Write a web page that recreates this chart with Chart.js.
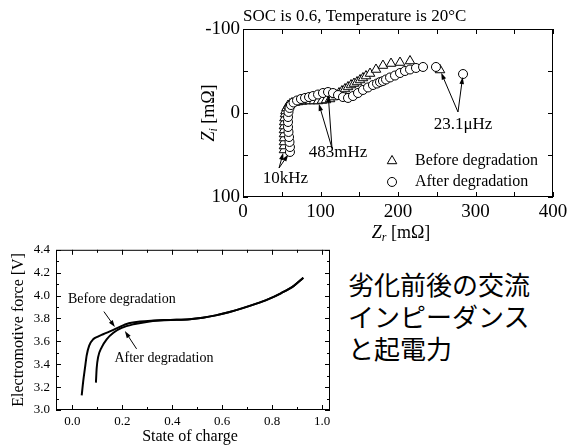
<!DOCTYPE html>
<html><head><meta charset="utf-8">
<script src="https://cdn.jsdelivr.net/npm/chart.js@4"></script>
<style>
html,body{margin:0;padding:0;background:#fff}
body{width:579px;height:446px;position:relative;overflow:hidden}
#c1{position:absolute;left:195px;top:0}
#c2{position:absolute;left:0;top:236px}
#jp{position:absolute;left:348px;top:268px;font-family:"Noto Sans CJK JP",sans-serif;font-size:26px;line-height:32px;color:#000;white-space:nowrap}
</style></head><body>
<canvas id="c1" width="384" height="246"></canvas>
<canvas id="c2" width="345" height="210"></canvas>
<div id="jp">劣化前後の交流<br>インピーダンス<br>と起電力</div>
<script>
// ---------- Nyquist plot data (Zr, Zi in mΩ) ----------
const beforeZr = [52.9,52.9,52.9,52.9,52.9,52.9,52.9,53.2,53.5,54.2,54.8,56.1,58.1,60.6,63.2,67.1,71.0,76.1,81.3,86.5,91.6,96.8,101.9,107.1,112.3,116.1,120.0,123.9,127.7,131.6,135.5,139.4,143.2,147.1,151.0,154.8,158.7,163.9,171.6,180.6,191.0,202.6,215.5,254.2];
const beforeZi = [44.0,39.3,34.5,29.8,25.0,20.2,15.5,10.7,6.0,1.2,-2.4,-6.0,-8.9,-10.7,-11.9,-12.5,-13.1,-13.7,-14.3,-14.3,-14.3,-14.3,-14.9,-15.5,-16.7,-19.0,-21.4,-23.8,-26.2,-28.6,-31.0,-33.3,-35.1,-36.9,-39.3,-41.7,-44.0,-47.0,-51.8,-56.5,-58.9,-60.1,-61.9,-51.2];
const afterZr = [60.6,60.6,60.0,59.4,58.7,58.1,58.1,58.1,58.7,60.0,61.9,65.2,69.7,74.8,80.0,85.2,90.3,96.8,103.2,109.7,116.1,122.6,129.0,135.5,141.9,148.4,154.8,161.3,167.7,172.9,176.8,180.6,184.5,189.7,196.1,202.6,209.0,215.5,223.2,232.3,249.0,283.9];
const afterZi = [46.4,40.5,34.5,28.6,22.6,16.7,10.7,4.8,-1.2,-6.0,-9.5,-12.5,-14.9,-16.7,-17.9,-19.0,-20.2,-22.0,-23.8,-25.0,-23.8,-21.4,-19.0,-17.9,-20.2,-23.8,-27.4,-30.4,-33.3,-35.1,-36.9,-38.1,-39.9,-42.3,-44.6,-47.6,-50.0,-51.8,-53.6,-54.8,-54.8,-46.4];
const zrTicks = [0,100,200,300,400];
const ziTicks = [-100,0,100];
const freqLabels = ['23.1\u03bcHz','483mHz','10kHz'];

// ---------- EMF vs SOC data ----------
const socBefore = [0.037,0.043,0.050,0.057,0.067,0.083,0.102,0.123,0.164,0.217,0.271,0.324,0.365,0.417,0.470,0.522,0.574,0.626,0.679,0.731,0.783,0.835,0.887,0.925];
const emfBefore = [3.127,3.25,3.365,3.478,3.563,3.618,3.642,3.662,3.700,3.752,3.773,3.782,3.786,3.788,3.793,3.806,3.827,3.855,3.888,3.925,3.967,4.020,4.085,4.155];
const socAfter = [0.094,0.097,0.103,0.117,0.137,0.164,0.197,0.244,0.297,0.351,0.417,0.470,0.522,0.574,0.626,0.679,0.731,0.783,0.835,0.887,0.925];
const emfAfter = [3.239,3.365,3.464,3.548,3.618,3.675,3.717,3.749,3.770,3.782,3.788,3.793,3.806,3.827,3.855,3.888,3.925,3.967,4.020,4.085,4.155];
const socTicks = [0.0,0.2,0.4,0.6,0.8,1.0];
const emfTicks = [3.0,3.2,3.4,3.6,3.8,4.0,4.2,4.4];

const SERIF = '"Liberation Serif","Times New Roman",serif';
const zip = (a,b) => a.map((v,i)=>({x:v,y:b[i]}));
const mids = t => t.slice(1).map((v,i)=>(v+t[i])/2);

function drawArrow(ctx,x1,y1,x2,y2,shorten){
  const dx=x2-x1, dy=y2-y1, L=Math.hypot(dx,dy), ux=dx/L, uy=dy/L;
  const tx=x2-ux*shorten, ty=y2-uy*shorten, hl=7, hw=2.3;
  ctx.beginPath(); ctx.moveTo(x1,y1); ctx.lineTo(tx-ux*hl*0.5,ty-uy*hl*0.5); ctx.stroke();
  ctx.beginPath(); ctx.moveTo(tx,ty);
  ctx.lineTo(tx-ux*hl-uy*hw, ty-uy*hl+ux*hw);
  ctx.lineTo(tx-ux*hl+uy*hw, ty-uy*hl-ux*hw);
  ctx.closePath(); ctx.fill();
}
function drawTicks(ctx,ca,xs,ys,xVals,yVals,len){
  ctx.beginPath();
  xVals.forEach(v=>{const p=Math.round(xs.getPixelForValue(v))+0.5;
    ctx.moveTo(p,ca.bottom); ctx.lineTo(p,ca.bottom-len); ctx.moveTo(p,ca.top); ctx.lineTo(p,ca.top+len);});
  yVals.forEach(v=>{const p=Math.round(ys.getPixelForValue(v))+0.5;
    ctx.moveTo(ca.left,p); ctx.lineTo(ca.left+len,p); ctx.moveTo(ca.right,p); ctx.lineTo(ca.right-len,p);});
  ctx.stroke();
}
function zTitle(ctx,sub,cx,cy,rot){
  ctx.save(); ctx.translate(cx,cy); if(rot) ctx.rotate(-Math.PI/2);
  const fM='italic 18px '+SERIF, fS='italic 12px '+SERIF, fR='18px '+SERIF;
  ctx.font=fM; const w1=ctx.measureText('Z').width;
  ctx.font=fS; const w2=ctx.measureText(sub).width;
  ctx.font=fR; const w3=ctx.measureText(' [m\u03a9]').width;
  let x=-(w1+w2+w3)/2; ctx.textAlign='left'; ctx.textBaseline='alphabetic'; ctx.fillStyle='#000';
  ctx.font=fM; ctx.fillText('Z',x,6); x+=w1;
  ctx.font=fS; ctx.fillText(sub,x,9); x+=w2;
  ctx.font=fR; ctx.fillText(' [m\u03a9]',x,6);
  ctx.restore();
}

// ---------- Top chart: Nyquist ----------
const nyqPlugin = {
  id:'nyq',
  afterDatasetsDraw(chart){
    const {ctx, chartArea:ca, scales:{x,y}} = chart;
    ctx.save();
    ctx.strokeStyle='#000'; ctx.fillStyle='#000'; ctx.lineWidth=1;
    ctx.strokeRect(ca.left+0.5,ca.top+0.5,ca.right-ca.left-1,ca.bottom-ca.top-1);
    drawTicks(ctx,ca,x,y,zrTicks.concat(mids(zrTicks)),ziTicks.concat(mids(ziTicks)),5);
    ctx.font='17px '+SERIF; ctx.textAlign='left'; ctx.textBaseline='middle';
    ctx.fillText('SOC is 0.6, Temperature is 20\u00b0C', ca.left, 17);
    zTitle(ctx,'r',(ca.left+ca.right)/2+3,ca.bottom+35,false);
    zTitle(ctx,'i',13,(ca.top+ca.bottom)/2,true);
    const mA = chart.getDatasetMeta(0).data, mB = chart.getDatasetMeta(1).data;
    const lab = [[283.9,14.3],[122.6,47.6],[54.8,78.6]];
    const tails = [[277.4,-1.2],[114.8,41.7],[46.5,65.5]];
    const targets = [[mB[mB.length-1],mA[mA.length-1]],[mB[21],mA[19]],[mB[0],mA[0]]];
    ctx.font='17px '+SERIF; ctx.textAlign='center'; ctx.textBaseline='middle';
    lab.forEach((p,i)=>{
      ctx.fillText(freqLabels[i], x.getPixelForValue(p[0]), y.getPixelForValue(p[1]));
      const tx=x.getPixelForValue(tails[i][0]), ty=y.getPixelForValue(tails[i][1]);
      targets[i].forEach(pt=>drawArrow(ctx,tx,ty,pt.x,pt.y,3));
    });
    const lx=x.getPixelForValue(192.3), ly1=y.getPixelForValue(57.1), ly2=y.getPixelForValue(82.1), tx=x.getPixelForValue(221.9);
    ctx.fillStyle='#fff';
    const r=5.5; ctx.beginPath();
    ctx.moveTo(lx,ly1-r); ctx.lineTo(lx+r*Math.sin(2*Math.PI/3),ly1-r*Math.cos(2*Math.PI/3)); ctx.lineTo(lx+r*Math.sin(4*Math.PI/3),ly1-r*Math.cos(4*Math.PI/3)); ctx.closePath(); ctx.fill(); ctx.stroke();
    ctx.beginPath(); ctx.arc(lx,ly2,4.5,0,Math.PI*2); ctx.fill(); ctx.stroke();
    ctx.fillStyle='#000'; ctx.font='16px '+SERIF; ctx.textAlign='left';
    ctx.fillText('Before degradation',tx,ly1); ctx.fillText('After degradation',tx,ly2);
    ctx.restore();
  }
};
new Chart(document.getElementById('c1'),{
  type:'scatter',
  data:{datasets:[
    {label:'After degradation',data:zip(afterZr,afterZi),pointStyle:'circle',pointRadius:4.5,borderColor:'#000',backgroundColor:'#fff',borderWidth:1},
    {label:'Before degradation',data:zip(beforeZr,beforeZi),pointStyle:'triangle',pointRadius:5.5,borderColor:'#000',backgroundColor:'#fff',borderWidth:1}
  ]},
  options:{
    responsive:false, animation:false, events:[],
    layout:{padding:{top:29,right:26,left:0,bottom:0}},
    plugins:{legend:{display:false},tooltip:{enabled:false}},
    scales:{
      x:{type:'linear',min:0,max:400,grid:{display:false,drawTicks:false},border:{display:false},
        afterBuildTicks:s=>{s.ticks=zrTicks.map(v=>({value:v}));},
        ticks:{autoSkip:false,maxRotation:0,padding:4,color:'#000',font:{family:SERIF,size:19},callback:v=>String(v)},
        afterFit:s=>{s.height=49;}},
      y:{type:'linear',min:-100,max:100,reverse:true,grid:{display:false,drawTicks:false},border:{display:false},
        afterBuildTicks:s=>{s.ticks=ziTicks.map(v=>({value:v}));},
        ticks:{autoSkip:false,padding:3,color:'#000',font:{family:SERIF,size:19},callback:v=>String(v)},
        afterFit:s=>{s.width=48;}}
    }
  },
  plugins:[nyqPlugin]
});

// ---------- Bottom chart: EMF ----------
const emfPlugin = {
  id:'emf',
  afterDatasetsDraw(chart){
    const {ctx, chartArea:ca, scales:{x,y}} = chart;
    ctx.save();
    ctx.strokeStyle='#000'; ctx.fillStyle='#000'; ctx.lineWidth=1;
    ctx.strokeRect(ca.left+0.5,ca.top+0.5,ca.right-ca.left-1,ca.bottom-ca.top-1);
    drawTicks(ctx,ca,x,y,socTicks,emfTicks,5);
    drawTicks(ctx,ca,x,y,mids(socTicks),mids(emfTicks),3);
    ctx.font='16px '+SERIF; ctx.textAlign='center'; ctx.textBaseline='middle';
    ctx.fillText('State of charge',(ca.left+ca.right)/2-3,201);
    ctx.save(); ctx.translate(19,(ca.top+ca.bottom)/2); ctx.rotate(-Math.PI/2);
    ctx.fillText('Electromotive force [V]',0,0); ctx.restore();
    ctx.font='14px '+SERIF; ctx.textAlign='left';
    ctx.fillText('Before degradation',x.getPixelForValue(-0.018),y.getPixelForValue(3.97));
    ctx.fillText('After degradation',x.getPixelForValue(0.168),y.getPixelForValue(3.45));
    drawArrow(ctx,x.getPixelForValue(0.126),y.getPixelForValue(3.86),x.getPixelForValue(0.170),y.getPixelForValue(3.725),0);
    drawArrow(ctx,x.getPixelForValue(0.257),y.getPixelForValue(3.534),x.getPixelForValue(0.210),y.getPixelForValue(3.69),0);
    ctx.restore();
  }
};
new Chart(document.getElementById('c2'),{
  type:'line',
  data:{datasets:[
    {label:'Before degradation',data:zip(socBefore,emfBefore),borderColor:'#000',borderWidth:2,pointRadius:0,fill:false,cubicInterpolationMode:'monotone'},
    {label:'After degradation',data:zip(socAfter,emfAfter),borderColor:'#000',borderWidth:2,pointRadius:0,fill:false,cubicInterpolationMode:'monotone'}
  ]},
  options:{
    responsive:false, animation:false, events:[],
    layout:{padding:{top:8,right:15,left:0,bottom:0}},
    plugins:{legend:{display:false},tooltip:{enabled:false}},
    scales:{
      x:{type:'linear',min:-0.066,max:1.032,grid:{display:false,drawTicks:false},border:{display:false},
        afterBuildTicks:s=>{s.ticks=socTicks.map(v=>({value:v}));},
        ticks:{autoSkip:false,maxRotation:0,padding:4,color:'#000',font:{family:SERIF,size:13},callback:v=>v.toFixed(1)},
        afterFit:s=>{s.height=36;}},
      y:{type:'linear',min:3.0,max:4.4,grid:{display:false,drawTicks:false},border:{display:false},
        afterBuildTicks:s=>{s.ticks=emfTicks.map(v=>({value:v}));},
        ticks:{autoSkip:false,padding:6,color:'#000',font:{family:SERIF,size:13},callback:v=>v.toFixed(1)},
        afterFit:s=>{s.width=56;}}
    }
  },
  plugins:[emfPlugin]
});
</script>
</body></html>
